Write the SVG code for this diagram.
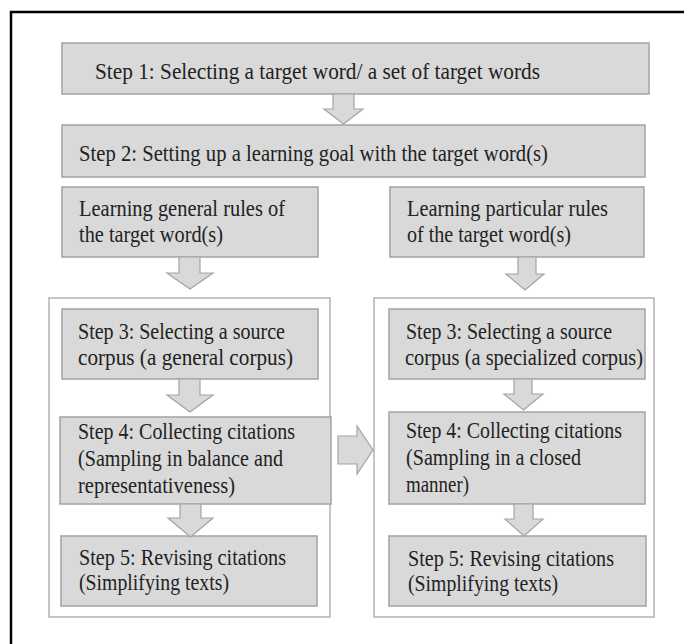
<svg xmlns="http://www.w3.org/2000/svg" width="684" height="644" viewBox="0 0 684 644">
<style>
.box{fill:#d9d9d9;stroke:#a3a3a3;stroke-width:1.5}
.cont{fill:#ffffff;stroke:#b3b3b3;stroke-width:1.5}
.arr{fill:#d9d9d9;stroke:#a3a3a3;stroke-width:1.2}
</style>
<rect x="0" y="0" width="684" height="644" fill="#ffffff"/>
<path d="M11 700 V12 H700" fill="none" stroke="#000" stroke-width="2.5"/>
<g font-family="Liberation Serif, Times New Roman, DejaVu Serif, serif" font-size="22.5" fill="#222">
<g id="left-container"><rect class="cont" x="49" y="298" width="281" height="319"/></g>
<g id="right-container"><rect class="cont" x="374" y="298" width="280" height="319"/></g>
<g id="step1"><rect class="box" x="62" y="43" width="587" height="51"/><text x="95" y="79" textLength="445" lengthAdjust="spacingAndGlyphs">Step 1: Selecting a target word/ a set of target words</text></g>
<g id="step2"><rect class="box" x="62" y="125" width="583" height="52"/><text x="79" y="161" textLength="469" lengthAdjust="spacingAndGlyphs">Step 2: Setting up a learning goal with the target word(s)</text></g>
<g id="learn-general"><rect class="box" x="62" y="187" width="256" height="70"/><text x="79" y="216" textLength="206" lengthAdjust="spacingAndGlyphs">Learning general rules of</text><text x="79" y="242" textLength="144" lengthAdjust="spacingAndGlyphs">the target word(s)</text></g>
<g id="learn-particular"><rect class="box" x="390" y="187" width="254" height="70"/><text x="407" y="216" textLength="201" lengthAdjust="spacingAndGlyphs">Learning particular rules</text><text x="407" y="242" textLength="164" lengthAdjust="spacingAndGlyphs">of the target word(s)</text></g>
<g id="l-step3"><rect class="box" x="62" y="309" width="256" height="70"/><text x="78" y="339" textLength="207" lengthAdjust="spacingAndGlyphs">Step 3: Selecting a source</text><text x="78" y="365" textLength="215" lengthAdjust="spacingAndGlyphs">corpus (a general corpus)</text></g>
<g id="r-step3"><rect class="box" x="389" y="309" width="256" height="70"/><text x="406" y="339" textLength="206" lengthAdjust="spacingAndGlyphs">Step 3: Selecting a source</text><text x="405" y="365" textLength="238" lengthAdjust="spacingAndGlyphs">corpus (a specialized corpus)</text></g>
<g id="l-step4"><rect class="box" x="60" y="417" width="271" height="87"/><text x="78" y="439" textLength="217" lengthAdjust="spacingAndGlyphs">Step 4: Collecting citations</text><text x="78" y="466" textLength="205" lengthAdjust="spacingAndGlyphs">(Sampling in balance and</text><text x="78" y="493" textLength="157" lengthAdjust="spacingAndGlyphs">representativeness)</text></g>
<g id="r-step4"><rect class="box" x="389" y="412" width="256" height="92"/><text x="406" y="438" textLength="216" lengthAdjust="spacingAndGlyphs">Step 4: Collecting citations</text><text x="406" y="465" textLength="175" lengthAdjust="spacingAndGlyphs">(Sampling in a closed</text><text x="406" y="492" textLength="63" lengthAdjust="spacingAndGlyphs">manner)</text></g>
<g id="l-step5"><rect class="box" x="61" y="536" width="256" height="70"/><text x="79" y="565" textLength="207" lengthAdjust="spacingAndGlyphs">Step 5: Revising citations</text><text x="79" y="590" textLength="150" lengthAdjust="spacingAndGlyphs">(Simplifying texts)</text></g>
<g id="r-step5"><rect class="box" x="389" y="536" width="257" height="70"/><text x="408" y="566" textLength="206" lengthAdjust="spacingAndGlyphs">Step 5: Revising citations</text><text x="408" y="591" textLength="150" lengthAdjust="spacingAndGlyphs">(Simplifying texts)</text></g>
</g>
<g id="connectors">
<path class="arr" d="M333 94 H354 V109 H363 L343.5 124 L324 109 H333 Z"/>
<path class="arr" d="M179 257 H200 V273 H213 L190 289 L167 273 H179 Z"/>
<path class="arr" d="M518 257 H536 V274 H544 L525 290 L506 274 H518 Z"/>
<path class="arr" d="M179 379 H200 V395 H213 L190 412 L167 395 H179 Z"/>
<path class="arr" d="M514 379 H532 V394 H543 L523.5 410 L504 394 H514 Z"/>
<path class="arr" d="M180 504 H201 V518 H213 L190.5 537 L168 518 H180 Z"/>
<path class="arr" d="M514 504 H533 V519 H543 L524 536 L505 519 H514 Z"/>
<path class="arr" d="M338 436 H357 V426 L373 450 L357 474 V464 H338 Z"/>
</g>
</svg>
